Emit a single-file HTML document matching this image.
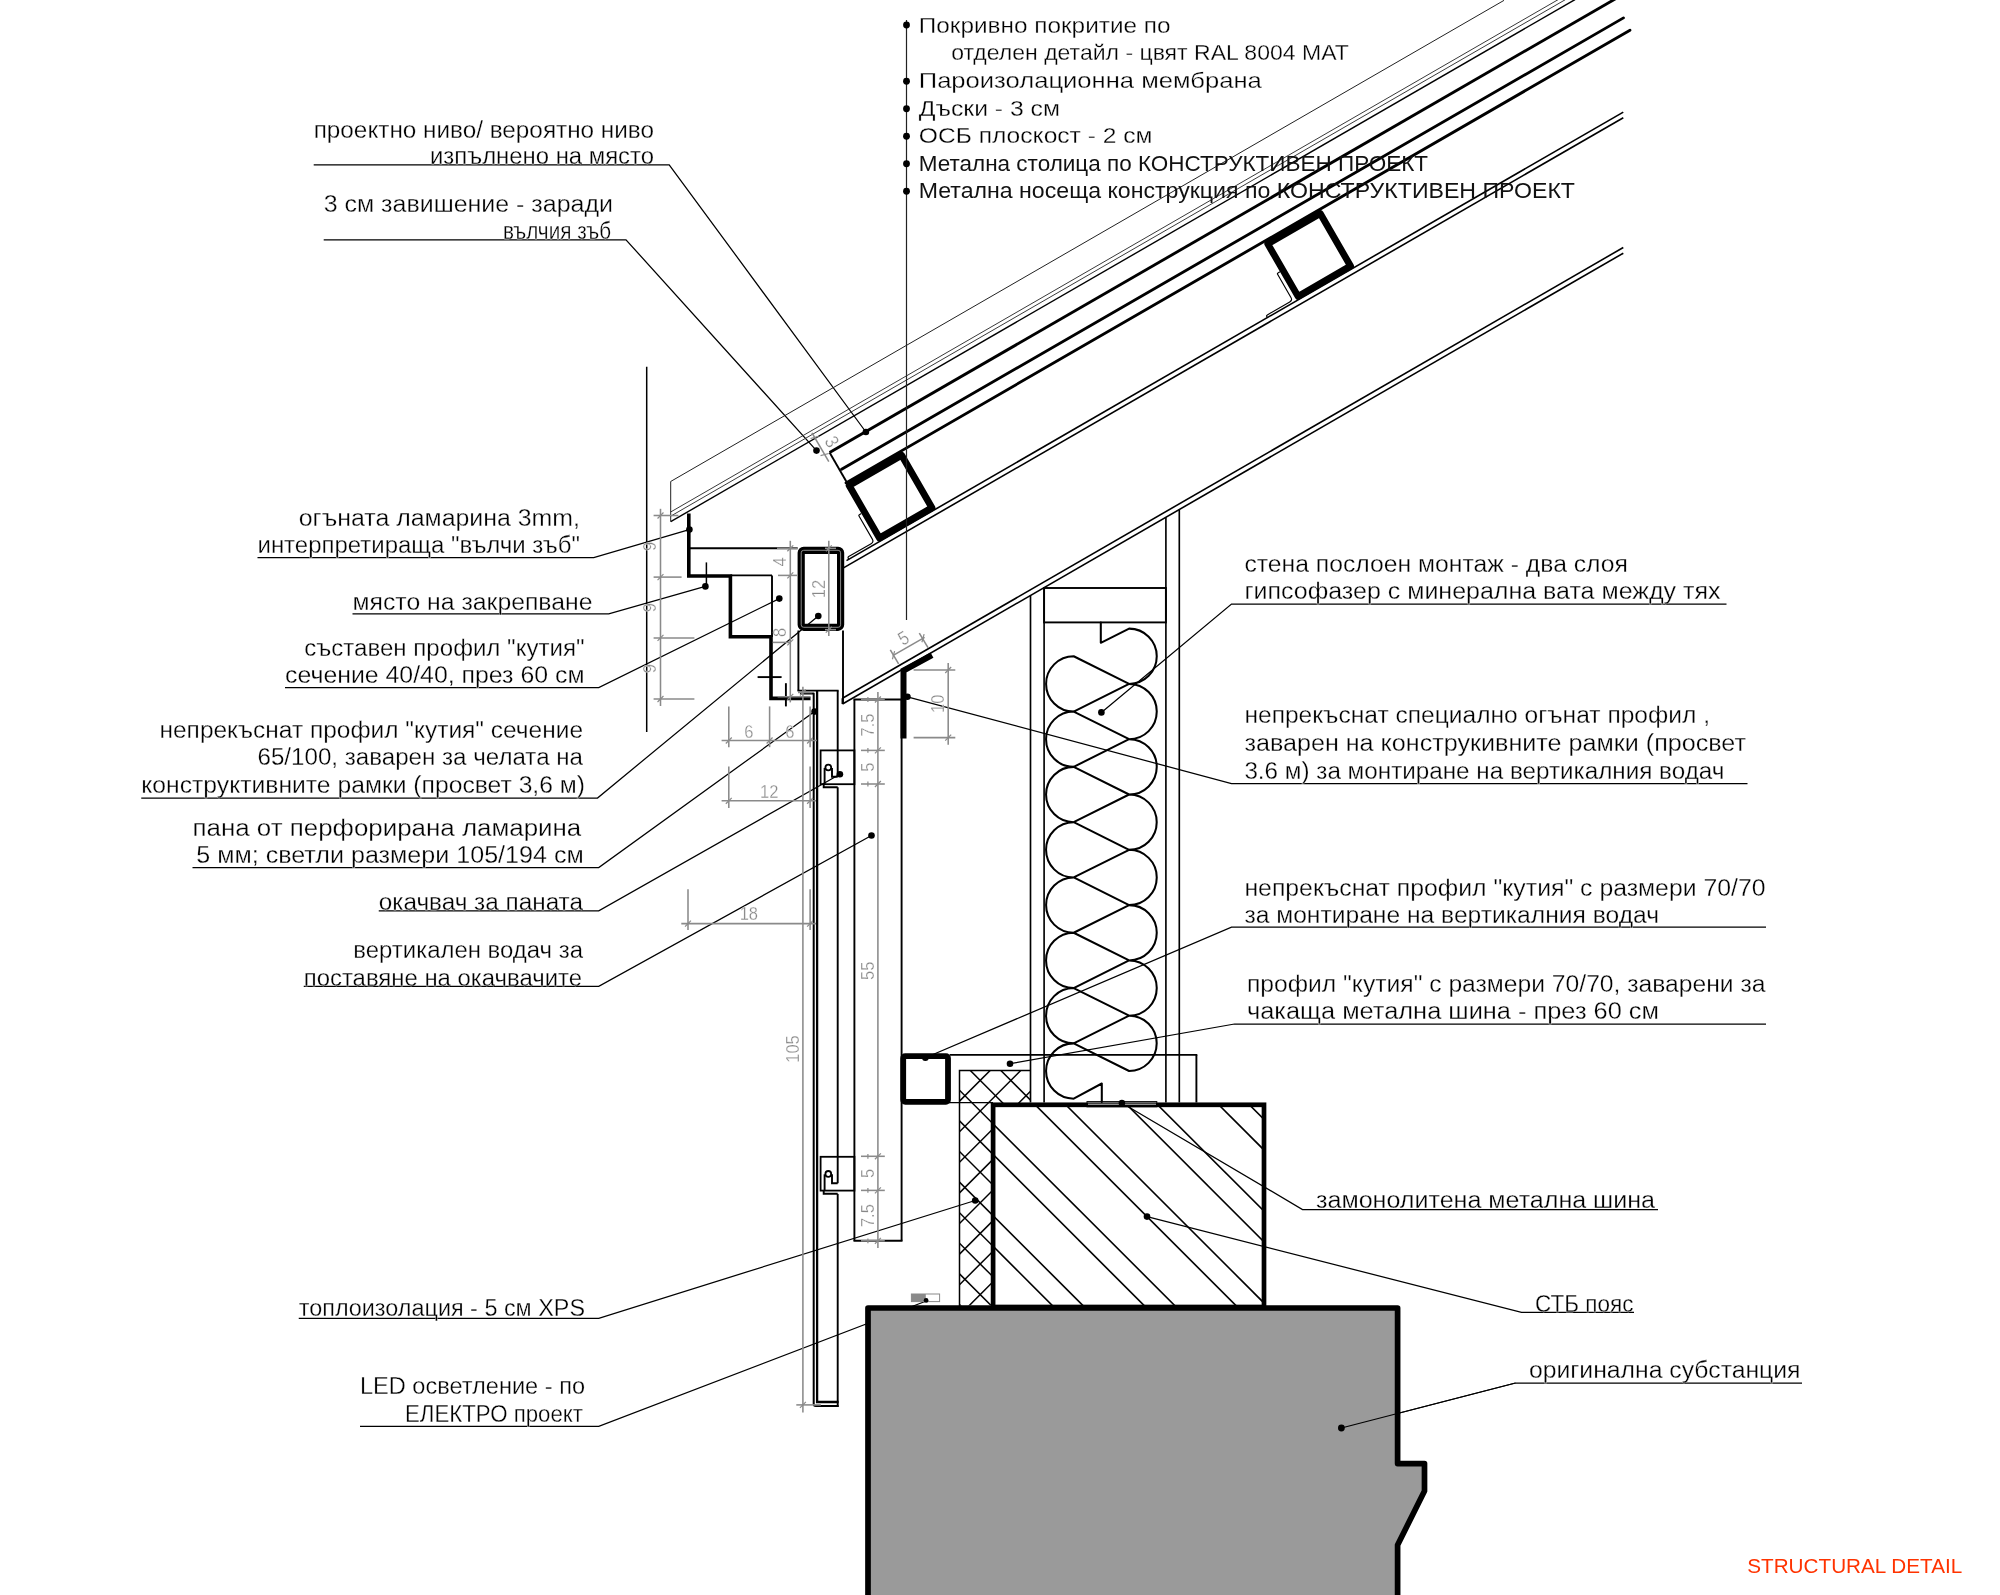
<!DOCTYPE html>
<html lang="bg"><head><meta charset="utf-8"><title>Structural detail</title>
<style>
html,body{margin:0;padding:0;background:#fff;}
body{width:2000px;height:1595px;overflow:hidden;font-family:"Liberation Sans",sans-serif;}
svg{display:block;}
text{font-family:"Liberation Sans",sans-serif;}
#labels,#dims{opacity:0.999;}
</style></head><body>
<svg width="2000" height="1595" viewBox="0 0 2000 1595">
<rect x="0" y="0" width="2000" height="1595" fill="#fff"/>
<g id="leaders">
<path d="M313.7 164.8 H669.2 L865.9 432" fill="none" stroke="#000" stroke-width="1.25" stroke-linejoin="miter" stroke-linecap="butt" />
<path d="M323.7 239.8 H626 L816.5 450.6" fill="none" stroke="#000" stroke-width="1.25" stroke-linejoin="miter" stroke-linecap="butt" />
<path d="M257.5 557.5 H593.75 L689.2 529.6" fill="none" stroke="#000" stroke-width="1.25" stroke-linejoin="miter" stroke-linecap="butt" />
<path d="M352.5 613.75 H608.75 L705.3 586.4" fill="none" stroke="#000" stroke-width="1.25" stroke-linejoin="miter" stroke-linecap="butt" />
<path d="M285 687.5 H598.75 L779.3 598.6" fill="none" stroke="#000" stroke-width="1.25" stroke-linejoin="miter" stroke-linecap="butt" />
<path d="M141.25 798 H597.5 L818.3 616" fill="none" stroke="#000" stroke-width="1.25" stroke-linejoin="miter" stroke-linecap="butt" />
<path d="M192.5 867.5 H598.75 L814.6 711.6" fill="none" stroke="#000" stroke-width="1.25" stroke-linejoin="miter" stroke-linecap="butt" />
<path d="M378.75 910.75 H598.75 L839.9 774.2" fill="none" stroke="#000" stroke-width="1.25" stroke-linejoin="miter" stroke-linecap="butt" />
<path d="M303.75 986.25 H598.75 L871.5 835.5" fill="none" stroke="#000" stroke-width="1.25" stroke-linejoin="miter" stroke-linecap="butt" />
<path d="M298.75 1318.25 H598.75 L975.2 1200.5" fill="none" stroke="#000" stroke-width="1.25" stroke-linejoin="miter" stroke-linecap="butt" />
<path d="M360 1426.25 H598.75 L926.3 1301" fill="none" stroke="#000" stroke-width="1.25" stroke-linejoin="miter" stroke-linecap="butt" />
<path d="M1726.5 604 H1231.5 L1101.4 712.4" fill="none" stroke="#000" stroke-width="1.25" stroke-linejoin="miter" stroke-linecap="butt" />
<path d="M1747.5 783.6 H1231.5 L907.4 696.8" fill="none" stroke="#000" stroke-width="1.25" stroke-linejoin="miter" stroke-linecap="butt" />
<path d="M1766 927.2 H1231.5 L925.4 1057.8" fill="none" stroke="#000" stroke-width="1.25" stroke-linejoin="miter" stroke-linecap="butt" />
<path d="M1766 1024 H1234.5 L1010 1063.7" fill="none" stroke="#000" stroke-width="1.25" stroke-linejoin="miter" stroke-linecap="butt" />
<path d="M1658 1209.5 H1302.5 L1121.9 1103" fill="none" stroke="#000" stroke-width="1.25" stroke-linejoin="miter" stroke-linecap="butt" />
<path d="M1634 1312.4 H1521.5 L1147 1216.6" fill="none" stroke="#000" stroke-width="1.25" stroke-linejoin="miter" stroke-linecap="butt" />
<path d="M1802 1383 H1515.5 L1341.4 1428" fill="none" stroke="#000" stroke-width="1.25" stroke-linejoin="miter" stroke-linecap="butt" />
</g>
<g id="substation">
<path d="M868 1600 V1308 H1397.6 V1463.6 H1424.5 V1491 L1397.6 1545 V1600" fill="#9a9a9a" stroke="#000" stroke-width="5.7" stroke-linejoin="round" stroke-linecap="butt" />
<circle cx="1341.4" cy="1428" r="3.4" fill="#000"/>
<line x1="1341.4" y1="1428" x2="1515.5" y2="1383" stroke="#000" stroke-width="1.25" stroke-linecap="butt" />
</g>
<g id="roof">
<line x1="670.7" y1="481.47" x2="1504" y2="0.37" stroke="#222" stroke-width="1" stroke-linecap="butt" />
<line x1="670.7" y1="511.97" x2="1558" y2="-0.31" stroke="#3a3a3a" stroke-width="1" stroke-linecap="butt" />
<line x1="670.7" y1="516.17" x2="1565.5" y2="-0.44" stroke="#3a3a3a" stroke-width="1" stroke-linecap="butt" />
<line x1="670.7" y1="521.67" x2="1575" y2="-0.43" stroke="#000" stroke-width="1.4" stroke-linecap="butt" />
<line x1="670.7" y1="481.47" x2="670.7" y2="521.67" stroke="#222" stroke-width="1" stroke-linecap="butt" />
<line x1="829.6" y1="452.53" x2="1616" y2="-1.5" stroke="#000" stroke-width="2.85" stroke-linecap="butt" />
<line x1="841.6" y1="469.3" x2="1623.5" y2="17.87" stroke="#000" stroke-width="2.85" stroke-linecap="round" />
<line x1="846" y1="482.86" x2="1630" y2="30.22" stroke="#000" stroke-width="2.85" stroke-linecap="round" />
<line x1="829.6" y1="452.53" x2="846.9" y2="482.49" stroke="#000" stroke-width="1.9" stroke-linecap="butt" />
<line x1="846.5" y1="560.57" x2="1623.3" y2="112.09" stroke="#000" stroke-width="1.6" stroke-linecap="butt" />
<line x1="843.5" y1="567.91" x2="1623.3" y2="117.69" stroke="#000" stroke-width="1.6" stroke-linecap="butt" />
<line x1="842.5" y1="698.28" x2="1623.3" y2="247.49" stroke="#000" stroke-width="1.6" stroke-linecap="butt" />
<line x1="842.5" y1="703.98" x2="1623.3" y2="253.19" stroke="#000" stroke-width="1.6" stroke-linecap="butt" />
<line x1="842.5" y1="698.28" x2="842.5" y2="703.98" stroke="#000" stroke-width="1.9" stroke-linecap="butt" />
<path d="M849.14 485.54 L901.63 455.24 L931.93 507.73 L879.44 538.03 Z" fill="#fff" stroke="#000" stroke-width="6.8" stroke-linejoin="round" stroke-linecap="butt" />
<path d="M861.35 513.49 L859.36 514.64 Q858.49 515.14 858.99 516 L872.34 539.12 Q873.99 541.98 871.13 543.63 L848.7 556.58 Q847.58 557.23 848.23 558.36 L848.93 559.57 " fill="none" stroke="#000" stroke-width="1.15" stroke-linejoin="round" stroke-linecap="butt" />
<path d="M1267.74 243.84 L1320.23 213.54 L1350.53 266.03 L1298.04 296.33 Z" fill="#fff" stroke="#000" stroke-width="6.8" stroke-linejoin="round" stroke-linecap="butt" />
<path d="M1279.95 271.79 L1277.96 272.94 Q1277.09 273.44 1277.59 274.3 L1290.94 297.42 Q1292.59 300.28 1289.73 301.93 L1267.3 314.88 Q1266.18 315.53 1266.83 316.66 L1267.53 317.87 " fill="none" stroke="#000" stroke-width="1.15" stroke-linejoin="round" stroke-linecap="butt" />
</g>
<g id="eave">
<line x1="688.8" y1="548.3" x2="797.6" y2="548.3" stroke="#000" stroke-width="1.9" stroke-linecap="butt" />
<line x1="730.4" y1="575.4" x2="772" y2="575.4" stroke="#000" stroke-width="1.9" stroke-linecap="butt" />
<line x1="772" y1="575.4" x2="772" y2="637" stroke="#000" stroke-width="1.9" stroke-linecap="butt" />
<line x1="706.4" y1="562.4" x2="706.4" y2="586" stroke="#000" stroke-width="1.5" stroke-linecap="butt" />
<line x1="757.6" y1="677.1" x2="781.6" y2="677.1" stroke="#000" stroke-width="1.9" stroke-linecap="butt" />
<line x1="785.9" y1="683.2" x2="785.9" y2="706.4" stroke="#000" stroke-width="1.9" stroke-linecap="butt" />
<path d="M688.8 513.6 V576 H730.4 V636.8 H771 V698.4 H810.5" fill="none" stroke="#000" stroke-width="3.6" stroke-linejoin="miter" stroke-linecap="butt" />
<rect x="801.2" y="550.3" width="39.4" height="77" rx="2.5" fill="none" stroke="#000" stroke-width="7.2"/>
<rect x="801.2" y="550.3" width="39.4" height="77" rx="2.5" fill="none" stroke="#9a9a9a" stroke-width="0.9"/>
<line x1="798.4" y1="630.5" x2="798.4" y2="690.6" stroke="#000" stroke-width="1.9" stroke-linecap="butt" />
<line x1="843" y1="630.5" x2="843" y2="703.9" stroke="#000" stroke-width="1.9" stroke-linecap="butt" />
<line x1="797.5" y1="690.6" x2="838.6" y2="690.6" stroke="#000" stroke-width="1.9" stroke-linecap="butt" />
</g>
<g id="panel">
<path d="M800 693.4 H813.7 V1404 Q813.7 1406 815.7 1406 H838.6" fill="none" stroke="#000" stroke-width="2" stroke-linejoin="round" stroke-linecap="butt" />
<path d="M817.1 690.6 V1402 H838.6" fill="none" stroke="#000" stroke-width="2.3" stroke-linejoin="miter" stroke-linecap="butt" />
<line x1="837.7" y1="690.6" x2="837.7" y2="776.8" stroke="#000" stroke-width="1.9" stroke-linecap="butt" />
<line x1="837.7" y1="787.3" x2="837.7" y2="1183.2" stroke="#000" stroke-width="1.9" stroke-linecap="butt" />
<line x1="837.7" y1="1193.9" x2="837.7" y2="1407" stroke="#000" stroke-width="1.9" stroke-linecap="butt" />
<rect x="820.6" y="750.4" width="33.8" height="33.8" fill="none" stroke="#000" stroke-width="1.8"/>
<path d="M823.7 784.2 V787.3 H837.7" fill="none" stroke="#000" stroke-width="1.9" stroke-linejoin="miter" stroke-linecap="butt" />
<circle cx="828.3" cy="767.5" r="2.9" fill="#fff" stroke="#000" stroke-width="1.8"/>
<path d="M824.6 767.9 V784.2" fill="none" stroke="#000" stroke-width="1.9" stroke-linejoin="miter" stroke-linecap="butt" />
<path d="M832 767.9 V776.8 H837.7" fill="none" stroke="#000" stroke-width="1.9" stroke-linejoin="miter" stroke-linecap="butt" />
<rect x="820.6" y="1156.8" width="33.8" height="33.8" fill="none" stroke="#000" stroke-width="1.8"/>
<path d="M823.7 1190.6 V1193.7 H837.7" fill="none" stroke="#000" stroke-width="1.9" stroke-linejoin="miter" stroke-linecap="butt" />
<circle cx="828.3" cy="1173.9" r="2.9" fill="#fff" stroke="#000" stroke-width="1.8"/>
<path d="M824.6 1174.3 V1190.6" fill="none" stroke="#000" stroke-width="1.9" stroke-linejoin="miter" stroke-linecap="butt" />
<path d="M832 1174.3 V1183.2 H837.7" fill="none" stroke="#000" stroke-width="1.9" stroke-linejoin="miter" stroke-linecap="butt" />
<line x1="854.4" y1="699.5" x2="854.4" y2="1240.8" stroke="#000" stroke-width="1.9" stroke-linecap="butt" />
<line x1="901.6" y1="699.5" x2="901.6" y2="1240.8" stroke="#000" stroke-width="1.9" stroke-linecap="butt" />
<line x1="853.5" y1="699.5" x2="902.5" y2="699.5" stroke="#000" stroke-width="1.9" stroke-linecap="butt" />
<line x1="853.5" y1="1240.8" x2="902.5" y2="1240.8" stroke="#000" stroke-width="1.9" stroke-linecap="butt" />
<path d="M903.5 738.5 V670.5 L932 655.1" fill="none" stroke="#000" stroke-width="6" stroke-linejoin="miter" stroke-linecap="butt" />
</g>
<g id="wall">
<line x1="1030.5" y1="595.44" x2="1030.5" y2="1102.5" stroke="#000" stroke-width="1.65" stroke-linecap="butt" />
<line x1="1044.1" y1="587.59" x2="1044.1" y2="1102.5" stroke="#000" stroke-width="1.65" stroke-linecap="butt" />
<line x1="1165.9" y1="517.27" x2="1165.9" y2="1102.5" stroke="#000" stroke-width="1.65" stroke-linecap="butt" />
<line x1="1179.3" y1="509.53" x2="1179.3" y2="1102.5" stroke="#000" stroke-width="1.65" stroke-linecap="butt" />
<rect x="1044.1" y="588" width="121.8" height="34.4" fill="none" stroke="#000" stroke-width="1.9"/>
<path d="M1100.8 622.4 V642.8 L1129.1 628.6 A27.65 27.65 0 0 1 1129.1 683.9 L1073.7 656.25 A27.65 27.65 0 0 0 1073.7 711.55 L1129.1 683.9 A27.65 27.65 0 0 1 1129.1 739.2 L1073.7 711.55 A27.65 27.65 0 0 0 1073.7 766.85 L1129.1 739.2 A27.65 27.65 0 0 1 1129.1 794.5 L1073.7 766.85 A27.65 27.65 0 0 0 1073.7 822.15 L1129.1 794.5 A27.65 27.65 0 0 1 1129.1 849.8 L1073.7 822.15 A27.65 27.65 0 0 0 1073.7 877.45 L1129.1 849.8 A27.65 27.65 0 0 1 1129.1 905.1 L1073.7 877.45 A27.65 27.65 0 0 0 1073.7 932.75 L1129.1 905.1 A27.65 27.65 0 0 1 1129.1 960.4 L1073.7 932.75 A27.65 27.65 0 0 0 1073.7 988.05 L1129.1 960.4 A27.65 27.65 0 0 1 1129.1 1015.7 L1073.7 988.05 A27.65 27.65 0 0 0 1073.7 1043.35 L1129.1 1015.7 A27.65 27.65 0 0 1 1129.1 1071 L1073.7 1043.35 A27.65 27.65 0 0 0 1073.7 1098.65 L1101.8 1083.5 V1102" fill="none" stroke="#000" stroke-width="2.05" stroke-linejoin="round" stroke-linecap="round" />
</g>
<g id="base">
<defs>
<clipPath id="cx"><path d="M959.5 1070.6 H1030.9 V1103 H992.8 V1305.6 H959.5 Z"/></clipPath>
<clipPath id="cb"><rect x="993" y="1104.6" width="271" height="202"/></clipPath>
</defs>
<g clip-path="url(#cx)">
<line x1="940" y1="917.8" x2="1060" y2="1037.8" stroke="#000" stroke-width="1.5" stroke-linecap="butt" />
<line x1="940" y1="948.4" x2="1060" y2="1068.4" stroke="#000" stroke-width="1.5" stroke-linecap="butt" />
<line x1="940" y1="979" x2="1060" y2="1099" stroke="#000" stroke-width="1.5" stroke-linecap="butt" />
<line x1="940" y1="1009.6" x2="1060" y2="1129.6" stroke="#000" stroke-width="1.5" stroke-linecap="butt" />
<line x1="940" y1="1040.2" x2="1060" y2="1160.2" stroke="#000" stroke-width="1.5" stroke-linecap="butt" />
<line x1="940" y1="1070.8" x2="1060" y2="1190.8" stroke="#000" stroke-width="1.5" stroke-linecap="butt" />
<line x1="940" y1="1101.4" x2="1060" y2="1221.4" stroke="#000" stroke-width="1.5" stroke-linecap="butt" />
<line x1="940" y1="1132" x2="1060" y2="1252" stroke="#000" stroke-width="1.5" stroke-linecap="butt" />
<line x1="940" y1="1162.6" x2="1060" y2="1282.6" stroke="#000" stroke-width="1.5" stroke-linecap="butt" />
<line x1="940" y1="1193.2" x2="1060" y2="1313.2" stroke="#000" stroke-width="1.5" stroke-linecap="butt" />
<line x1="940" y1="1223.8" x2="1060" y2="1343.8" stroke="#000" stroke-width="1.5" stroke-linecap="butt" />
<line x1="940" y1="1254.4" x2="1060" y2="1374.4" stroke="#000" stroke-width="1.5" stroke-linecap="butt" />
<line x1="940" y1="1285" x2="1060" y2="1405" stroke="#000" stroke-width="1.5" stroke-linecap="butt" />
<line x1="940" y1="1315.6" x2="1060" y2="1435.6" stroke="#000" stroke-width="1.5" stroke-linecap="butt" />
<line x1="940" y1="1346.2" x2="1060" y2="1466.2" stroke="#000" stroke-width="1.5" stroke-linecap="butt" />
<line x1="940" y1="1376.8" x2="1060" y2="1496.8" stroke="#000" stroke-width="1.5" stroke-linecap="butt" />
<line x1="940" y1="998.2" x2="1060" y2="878.2" stroke="#000" stroke-width="1.5" stroke-linecap="butt" />
<line x1="940" y1="1028.8" x2="1060" y2="908.8" stroke="#000" stroke-width="1.5" stroke-linecap="butt" />
<line x1="940" y1="1059.4" x2="1060" y2="939.4" stroke="#000" stroke-width="1.5" stroke-linecap="butt" />
<line x1="940" y1="1090" x2="1060" y2="970" stroke="#000" stroke-width="1.5" stroke-linecap="butt" />
<line x1="940" y1="1120.6" x2="1060" y2="1000.6" stroke="#000" stroke-width="1.5" stroke-linecap="butt" />
<line x1="940" y1="1151.2" x2="1060" y2="1031.2" stroke="#000" stroke-width="1.5" stroke-linecap="butt" />
<line x1="940" y1="1181.8" x2="1060" y2="1061.8" stroke="#000" stroke-width="1.5" stroke-linecap="butt" />
<line x1="940" y1="1212.4" x2="1060" y2="1092.4" stroke="#000" stroke-width="1.5" stroke-linecap="butt" />
<line x1="940" y1="1243" x2="1060" y2="1123" stroke="#000" stroke-width="1.5" stroke-linecap="butt" />
<line x1="940" y1="1273.6" x2="1060" y2="1153.6" stroke="#000" stroke-width="1.5" stroke-linecap="butt" />
<line x1="940" y1="1304.2" x2="1060" y2="1184.2" stroke="#000" stroke-width="1.5" stroke-linecap="butt" />
<line x1="940" y1="1334.8" x2="1060" y2="1214.8" stroke="#000" stroke-width="1.5" stroke-linecap="butt" />
<line x1="940" y1="1365.4" x2="1060" y2="1245.4" stroke="#000" stroke-width="1.5" stroke-linecap="butt" />
<line x1="940" y1="1396" x2="1060" y2="1276" stroke="#000" stroke-width="1.5" stroke-linecap="butt" />
<line x1="940" y1="1426.6" x2="1060" y2="1306.6" stroke="#000" stroke-width="1.5" stroke-linecap="butt" />
</g>
<path d="M959.5 1306 V1070.6 H1030.9" fill="none" stroke="#000" stroke-width="1.5" stroke-linejoin="miter" stroke-linecap="butt" />
<line x1="949.6" y1="1054.9" x2="1197.3" y2="1054.9" stroke="#000" stroke-width="1.9" stroke-linecap="butt" />
<line x1="1196.4" y1="1054.9" x2="1196.4" y2="1102.5" stroke="#000" stroke-width="1.9" stroke-linecap="butt" />
<line x1="949" y1="1102.6" x2="993" y2="1102.6" stroke="#000" stroke-width="1.4" stroke-linecap="butt" />
<g clip-path="url(#cb)">
<line x1="980" y1="1386.2" x2="1280" y2="1686.2" stroke="#000" stroke-width="1.6" stroke-linecap="butt" />
<line x1="980" y1="1325" x2="1280" y2="1625" stroke="#000" stroke-width="1.6" stroke-linecap="butt" />
<line x1="980" y1="1294.4" x2="1280" y2="1594.4" stroke="#000" stroke-width="1.6" stroke-linecap="butt" />
<line x1="980" y1="1233.2" x2="1280" y2="1533.2" stroke="#000" stroke-width="1.6" stroke-linecap="butt" />
<line x1="980" y1="1202.6" x2="1280" y2="1502.6" stroke="#000" stroke-width="1.6" stroke-linecap="butt" />
<line x1="980" y1="1141.4" x2="1280" y2="1441.4" stroke="#000" stroke-width="1.6" stroke-linecap="butt" />
<line x1="980" y1="1110.8" x2="1280" y2="1410.8" stroke="#000" stroke-width="1.6" stroke-linecap="butt" />
<line x1="980" y1="1049.6" x2="1280" y2="1349.6" stroke="#000" stroke-width="1.6" stroke-linecap="butt" />
<line x1="980" y1="1019" x2="1280" y2="1319" stroke="#000" stroke-width="1.6" stroke-linecap="butt" />
<line x1="980" y1="957.8" x2="1280" y2="1257.8" stroke="#000" stroke-width="1.6" stroke-linecap="butt" />
<line x1="980" y1="927.2" x2="1280" y2="1227.2" stroke="#000" stroke-width="1.6" stroke-linecap="butt" />
<line x1="980" y1="866" x2="1280" y2="1166" stroke="#000" stroke-width="1.6" stroke-linecap="butt" />
<line x1="980" y1="835.4" x2="1280" y2="1135.4" stroke="#000" stroke-width="1.6" stroke-linecap="butt" />
</g>
<rect x="993.1" y="1104.8" width="270.9" height="202.2" fill="none" stroke="#000" stroke-width="4.7"/>
<rect x="1087" y="1101.6" width="69.8" height="5.2" fill="none" stroke="#000" stroke-width="1"/>
<line x1="1088" y1="1104.2" x2="1156" y2="1104.2" stroke="#fff" stroke-width="0.8" stroke-linecap="butt" />
<rect x="903.2" y="1056.2" width="44.8" height="45.6" rx="2" fill="#fff" stroke="#000" stroke-width="5.8"/>
<rect x="911.4" y="1294" width="28.2" height="7.6" fill="#fff" stroke="#8a8a8a" stroke-width="1"/>
<rect x="911.4" y="1294" width="14.4" height="7.6" fill="#8a8a8a"/>
<circle cx="926.1" cy="1300.4" r="2.4" fill="#000"/>
</g>
<line x1="646.7" y1="366.8" x2="646.7" y2="732" stroke="#000" stroke-width="1.5" stroke-linecap="butt" />
<line x1="906.5" y1="20" x2="906.5" y2="620" stroke="#222" stroke-width="1.2" stroke-linecap="butt" />
<g id="dims" font-family="'Liberation Sans', sans-serif">
<line x1="660.5" y1="508.8" x2="660.5" y2="706" stroke="#8a8a8a" stroke-width="1.55" stroke-linecap="butt" />
<line x1="653.6" y1="515.5" x2="678.4" y2="515.5" stroke="#8a8a8a" stroke-width="1.55" stroke-linecap="butt" />
<line x1="657.53" y1="518.47" x2="663.47" y2="512.53" stroke="#8a8a8a" stroke-width="1.2" stroke-linecap="butt" />
<line x1="653.6" y1="577.1" x2="681.6" y2="577.1" stroke="#8a8a8a" stroke-width="1.55" stroke-linecap="butt" />
<line x1="657.53" y1="580.07" x2="663.47" y2="574.13" stroke="#8a8a8a" stroke-width="1.2" stroke-linecap="butt" />
<line x1="653.6" y1="637.9" x2="694.4" y2="637.9" stroke="#8a8a8a" stroke-width="1.55" stroke-linecap="butt" />
<line x1="657.53" y1="640.87" x2="663.47" y2="634.93" stroke="#8a8a8a" stroke-width="1.2" stroke-linecap="butt" />
<line x1="653.6" y1="699" x2="694.4" y2="699" stroke="#8a8a8a" stroke-width="1.55" stroke-linecap="butt" />
<line x1="657.53" y1="701.97" x2="663.47" y2="696.03" stroke="#8a8a8a" stroke-width="1.2" stroke-linecap="butt" />
<text transform="translate(656.4 546.5) rotate(-90)" text-anchor="middle" font-size="19.2" fill="#878787" stroke="#fff" stroke-width="0.3" textLength="9.18" lengthAdjust="spacingAndGlyphs">9</text>
<text transform="translate(656.4 607.6) rotate(-90)" text-anchor="middle" font-size="19.2" fill="#878787" stroke="#fff" stroke-width="0.3" textLength="9.18" lengthAdjust="spacingAndGlyphs">9</text>
<text transform="translate(656.4 668.6) rotate(-90)" text-anchor="middle" font-size="19.2" fill="#878787" stroke="#fff" stroke-width="0.3" textLength="9.18" lengthAdjust="spacingAndGlyphs">9</text>
<line x1="790.3" y1="540.8" x2="790.3" y2="702.4" stroke="#8a8a8a" stroke-width="1.55" stroke-linecap="butt" />
<line x1="777" y1="548.3" x2="798" y2="548.3" stroke="#8a8a8a" stroke-width="1.55" stroke-linecap="butt" />
<line x1="778" y1="575.4" x2="797" y2="575.4" stroke="#8a8a8a" stroke-width="1.55" stroke-linecap="butt" />
<line x1="772.8" y1="642.4" x2="790.4" y2="642.4" stroke="#8a8a8a" stroke-width="1.55" stroke-linecap="butt" />
<line x1="777.6" y1="696.8" x2="810.1" y2="696.8" stroke="#8a8a8a" stroke-width="1.55" stroke-linecap="butt" />
<line x1="787.33" y1="551.27" x2="793.27" y2="545.33" stroke="#8a8a8a" stroke-width="1.2" stroke-linecap="butt" />
<line x1="787.33" y1="578.37" x2="793.27" y2="572.43" stroke="#8a8a8a" stroke-width="1.2" stroke-linecap="butt" />
<line x1="787.33" y1="645.37" x2="793.27" y2="639.43" stroke="#8a8a8a" stroke-width="1.2" stroke-linecap="butt" />
<line x1="787.33" y1="699.77" x2="793.27" y2="693.83" stroke="#8a8a8a" stroke-width="1.2" stroke-linecap="butt" />
<text transform="translate(786.4 561.8) rotate(-90)" text-anchor="middle" font-size="19.2" fill="#878787" stroke="#fff" stroke-width="0.3" textLength="9.18" lengthAdjust="spacingAndGlyphs">4</text>
<text transform="translate(786.4 632.3) rotate(-90)" text-anchor="middle" font-size="19.2" fill="#878787" stroke="#fff" stroke-width="0.3" textLength="9.18" lengthAdjust="spacingAndGlyphs">8</text>
<line x1="828.8" y1="540.8" x2="828.8" y2="636" stroke="#8a8a8a" stroke-width="1.55" stroke-linecap="butt" />
<line x1="825.83" y1="551.27" x2="831.77" y2="545.33" stroke="#8a8a8a" stroke-width="1.2" stroke-linecap="butt" />
<line x1="825.83" y1="632.67" x2="831.77" y2="626.73" stroke="#8a8a8a" stroke-width="1.2" stroke-linecap="butt" />
<line x1="825" y1="548.3" x2="836" y2="548.3" stroke="#8a8a8a" stroke-width="1.55" stroke-linecap="butt" />
<line x1="825" y1="629.7" x2="836" y2="629.7" stroke="#8a8a8a" stroke-width="1.55" stroke-linecap="butt" />
<text transform="translate(824.9 589) rotate(-90)" text-anchor="middle" font-size="19.2" fill="#878787" stroke="#fff" stroke-width="0.3" textLength="18.36" lengthAdjust="spacingAndGlyphs">12</text>
<line x1="802.9" y1="686.8" x2="802.9" y2="1412.6" stroke="#8a8a8a" stroke-width="1.55" stroke-linecap="butt" />
<line x1="799.93" y1="695.47" x2="805.87" y2="689.53" stroke="#8a8a8a" stroke-width="1.2" stroke-linecap="butt" />
<line x1="799.93" y1="1407.87" x2="805.87" y2="1401.93" stroke="#8a8a8a" stroke-width="1.2" stroke-linecap="butt" />
<line x1="796.3" y1="1404.9" x2="820.8" y2="1404.9" stroke="#8a8a8a" stroke-width="1.55" stroke-linecap="butt" />
<line x1="798" y1="692.5" x2="812" y2="692.5" stroke="#8a8a8a" stroke-width="1.55" stroke-linecap="butt" />
<text transform="translate(799 1049) rotate(-90)" text-anchor="middle" font-size="19.2" fill="#878787" stroke="#fff" stroke-width="0.3" textLength="27.54" lengthAdjust="spacingAndGlyphs">105</text>
<line x1="810.1" y1="706.4" x2="810.1" y2="747.2" stroke="#8a8a8a" stroke-width="1.55" stroke-linecap="butt" />
<line x1="810.1" y1="766.4" x2="810.1" y2="808" stroke="#8a8a8a" stroke-width="1.55" stroke-linecap="butt" />
<line x1="721.6" y1="740.5" x2="816.8" y2="740.5" stroke="#8a8a8a" stroke-width="1.55" stroke-linecap="butt" />
<line x1="728.8" y1="706.4" x2="728.8" y2="747.2" stroke="#8a8a8a" stroke-width="1.55" stroke-linecap="butt" />
<line x1="769.6" y1="706.4" x2="769.6" y2="747.2" stroke="#8a8a8a" stroke-width="1.55" stroke-linecap="butt" />
<line x1="725.83" y1="743.47" x2="731.77" y2="737.53" stroke="#8a8a8a" stroke-width="1.2" stroke-linecap="butt" />
<line x1="766.63" y1="743.47" x2="772.57" y2="737.53" stroke="#8a8a8a" stroke-width="1.2" stroke-linecap="butt" />
<line x1="807.13" y1="743.47" x2="813.07" y2="737.53" stroke="#8a8a8a" stroke-width="1.2" stroke-linecap="butt" />
<text transform="translate(748.8 737.5) rotate(0)" text-anchor="middle" font-size="19.2" fill="#878787" stroke="#fff" stroke-width="0.3" textLength="9.18" lengthAdjust="spacingAndGlyphs">6</text>
<text transform="translate(789.9 737.5) rotate(0)" text-anchor="middle" font-size="19.2" fill="#878787" stroke="#fff" stroke-width="0.3" textLength="9.18" lengthAdjust="spacingAndGlyphs">6</text>
<line x1="721.6" y1="800.8" x2="816" y2="800.8" stroke="#8a8a8a" stroke-width="1.55" stroke-linecap="butt" />
<line x1="728.8" y1="766.4" x2="728.8" y2="808" stroke="#8a8a8a" stroke-width="1.55" stroke-linecap="butt" />
<line x1="725.83" y1="803.77" x2="731.77" y2="797.83" stroke="#8a8a8a" stroke-width="1.2" stroke-linecap="butt" />
<line x1="807.13" y1="803.77" x2="813.07" y2="797.83" stroke="#8a8a8a" stroke-width="1.2" stroke-linecap="butt" />
<text transform="translate(769.2 797.6) rotate(0)" text-anchor="middle" font-size="19.2" fill="#878787" stroke="#fff" stroke-width="0.3" textLength="18.36" lengthAdjust="spacingAndGlyphs">12</text>
<line x1="681.3" y1="923.6" x2="816" y2="923.6" stroke="#8a8a8a" stroke-width="1.55" stroke-linecap="butt" />
<line x1="688" y1="889.2" x2="688" y2="930" stroke="#8a8a8a" stroke-width="1.55" stroke-linecap="butt" />
<line x1="810.1" y1="889.2" x2="810.1" y2="930" stroke="#8a8a8a" stroke-width="1.55" stroke-linecap="butt" />
<line x1="685.03" y1="926.57" x2="690.97" y2="920.63" stroke="#8a8a8a" stroke-width="1.2" stroke-linecap="butt" />
<line x1="807.13" y1="926.57" x2="813.07" y2="920.63" stroke="#8a8a8a" stroke-width="1.2" stroke-linecap="butt" />
<text transform="translate(748.8 919.6) rotate(0)" text-anchor="middle" font-size="19.2" fill="#878787" stroke="#fff" stroke-width="0.3" textLength="18.36" lengthAdjust="spacingAndGlyphs">18</text>
<line x1="877.9" y1="692" x2="877.9" y2="1248" stroke="#8a8a8a" stroke-width="1.55" stroke-linecap="butt" />
<line x1="874.93" y1="702.47" x2="880.87" y2="696.53" stroke="#8a8a8a" stroke-width="1.2" stroke-linecap="butt" />
<line x1="861" y1="699.5" x2="884.8" y2="699.5" stroke="#8a8a8a" stroke-width="1.55" stroke-linecap="butt" />
<line x1="867.9" y1="697.1" x2="867.9" y2="701.9" stroke="#8a8a8a" stroke-width="1.2" stroke-linecap="butt" />
<line x1="874.93" y1="753.37" x2="880.87" y2="747.43" stroke="#8a8a8a" stroke-width="1.2" stroke-linecap="butt" />
<line x1="861" y1="750.4" x2="884.8" y2="750.4" stroke="#8a8a8a" stroke-width="1.55" stroke-linecap="butt" />
<line x1="867.9" y1="748" x2="867.9" y2="752.8" stroke="#8a8a8a" stroke-width="1.2" stroke-linecap="butt" />
<line x1="874.93" y1="786.97" x2="880.87" y2="781.03" stroke="#8a8a8a" stroke-width="1.2" stroke-linecap="butt" />
<line x1="861" y1="784" x2="884.8" y2="784" stroke="#8a8a8a" stroke-width="1.55" stroke-linecap="butt" />
<line x1="867.9" y1="781.6" x2="867.9" y2="786.4" stroke="#8a8a8a" stroke-width="1.2" stroke-linecap="butt" />
<line x1="874.93" y1="1159.27" x2="880.87" y2="1153.33" stroke="#8a8a8a" stroke-width="1.2" stroke-linecap="butt" />
<line x1="861" y1="1156.3" x2="884.8" y2="1156.3" stroke="#8a8a8a" stroke-width="1.55" stroke-linecap="butt" />
<line x1="867.9" y1="1153.9" x2="867.9" y2="1158.7" stroke="#8a8a8a" stroke-width="1.2" stroke-linecap="butt" />
<line x1="874.93" y1="1193.37" x2="880.87" y2="1187.43" stroke="#8a8a8a" stroke-width="1.2" stroke-linecap="butt" />
<line x1="861" y1="1190.4" x2="884.8" y2="1190.4" stroke="#8a8a8a" stroke-width="1.55" stroke-linecap="butt" />
<line x1="867.9" y1="1188" x2="867.9" y2="1192.8" stroke="#8a8a8a" stroke-width="1.2" stroke-linecap="butt" />
<line x1="874.93" y1="1243.77" x2="880.87" y2="1237.83" stroke="#8a8a8a" stroke-width="1.2" stroke-linecap="butt" />
<line x1="861" y1="1240.8" x2="884.8" y2="1240.8" stroke="#8a8a8a" stroke-width="1.55" stroke-linecap="butt" />
<line x1="867.9" y1="1238.4" x2="867.9" y2="1243.2" stroke="#8a8a8a" stroke-width="1.2" stroke-linecap="butt" />
<text transform="translate(874 725) rotate(-90)" text-anchor="middle" font-size="19.2" fill="#878787" stroke="#fff" stroke-width="0.3" textLength="22.95" lengthAdjust="spacingAndGlyphs">7.5</text>
<text transform="translate(874 767.2) rotate(-90)" text-anchor="middle" font-size="19.2" fill="#878787" stroke="#fff" stroke-width="0.3" textLength="9.18" lengthAdjust="spacingAndGlyphs">5</text>
<text transform="translate(873.6 970.8) rotate(-90)" text-anchor="middle" font-size="19.2" fill="#878787" stroke="#fff" stroke-width="0.3" textLength="18.36" lengthAdjust="spacingAndGlyphs">55</text>
<text transform="translate(874 1173.4) rotate(-90)" text-anchor="middle" font-size="19.2" fill="#878787" stroke="#fff" stroke-width="0.3" textLength="9.18" lengthAdjust="spacingAndGlyphs">5</text>
<text transform="translate(874 1215.6) rotate(-90)" text-anchor="middle" font-size="19.2" fill="#878787" stroke="#fff" stroke-width="0.3" textLength="22.95" lengthAdjust="spacingAndGlyphs">7.5</text>
<line x1="892.8" y1="655.6" x2="924.6" y2="637.3" stroke="#8a8a8a" stroke-width="1.55" stroke-linecap="butt" />
<line x1="890.3" y1="649.9" x2="898.6" y2="663.9" stroke="#8a8a8a" stroke-width="1.55" stroke-linecap="butt" />
<line x1="919.3" y1="633.2" x2="928" y2="647.7" stroke="#8a8a8a" stroke-width="1.55" stroke-linecap="butt" />
<line x1="892.41" y1="659.26" x2="894.59" y2="651.14" stroke="#8a8a8a" stroke-width="1.2" stroke-linecap="butt" />
<line x1="921.91" y1="642.26" x2="924.09" y2="634.14" stroke="#8a8a8a" stroke-width="1.2" stroke-linecap="butt" />
<text transform="translate(906.8 643.8) rotate(-30)" text-anchor="middle" font-size="19.2" fill="#878787" stroke="#fff" stroke-width="0.3" textLength="9.18" lengthAdjust="spacingAndGlyphs">5</text>
<line x1="948.2" y1="663" x2="948.2" y2="744.7" stroke="#8a8a8a" stroke-width="1.55" stroke-linecap="butt" />
<line x1="913.6" y1="670" x2="955.3" y2="670" stroke="#8a8a8a" stroke-width="1.55" stroke-linecap="butt" />
<line x1="913.6" y1="737.6" x2="955.3" y2="737.6" stroke="#8a8a8a" stroke-width="1.55" stroke-linecap="butt" />
<line x1="945.23" y1="672.97" x2="951.17" y2="667.03" stroke="#8a8a8a" stroke-width="1.2" stroke-linecap="butt" />
<line x1="945.23" y1="740.57" x2="951.17" y2="734.63" stroke="#8a8a8a" stroke-width="1.2" stroke-linecap="butt" />
<text transform="translate(944.3 703.8) rotate(-90)" text-anchor="middle" font-size="19.2" fill="#878787" stroke="#fff" stroke-width="0.3" textLength="18.36" lengthAdjust="spacingAndGlyphs">10</text>
<line x1="812" y1="432.8" x2="828.8" y2="461.6" stroke="#8a8a8a" stroke-width="1.55" stroke-linecap="butt" />
<line x1="810.54" y1="438.49" x2="818.66" y2="436.31" stroke="#8a8a8a" stroke-width="1.2" stroke-linecap="butt" />
<line x1="820.54" y1="455.69" x2="828.66" y2="453.51" stroke="#8a8a8a" stroke-width="1.2" stroke-linecap="butt" />
<text transform="translate(826.2 445) rotate(60)" text-anchor="middle" font-size="19.2" fill="#878787" stroke="#fff" stroke-width="0.3" textLength="9.18" lengthAdjust="spacingAndGlyphs">3</text>
</g>
<g id="dots">
<circle cx="865.9" cy="432" r="3.3" fill="#000"/>
<circle cx="816.5" cy="450.6" r="3.3" fill="#000"/>
<circle cx="689.4" cy="529.6" r="3.3" fill="#000"/>
<circle cx="705.4" cy="586.4" r="3.3" fill="#000"/>
<circle cx="779.3" cy="598.6" r="3.3" fill="#000"/>
<circle cx="818.3" cy="616" r="3.3" fill="#000"/>
<circle cx="814.6" cy="711.6" r="3.3" fill="#000"/>
<circle cx="839.9" cy="774.2" r="3.3" fill="#000"/>
<circle cx="871.5" cy="835.5" r="3.3" fill="#000"/>
<circle cx="975.2" cy="1200.5" r="3.3" fill="#000"/>
<circle cx="1101.4" cy="712.4" r="3.3" fill="#000"/>
<circle cx="907.4" cy="696.8" r="3.3" fill="#000"/>
<circle cx="925.4" cy="1057.8" r="3.3" fill="#000"/>
<circle cx="1010" cy="1063.7" r="3.3" fill="#000"/>
<circle cx="1121.9" cy="1103" r="3.3" fill="#000"/>
<circle cx="1147" cy="1216.6" r="3.3" fill="#000"/>
<circle cx="906.5" cy="25" r="3.4" fill="#000"/>
<circle cx="906.5" cy="81.25" r="3.4" fill="#000"/>
<circle cx="906.5" cy="108.75" r="3.4" fill="#000"/>
<circle cx="906.5" cy="136.25" r="3.4" fill="#000"/>
<circle cx="906.5" cy="163.75" r="3.4" fill="#000"/>
<circle cx="906.5" cy="191.25" r="3.4" fill="#000"/>
</g>
<g id="labels" font-family="'Liberation Sans', sans-serif">
<text x="918.75" y="32.5" font-size="21.8" fill="#000" textLength="251.75" lengthAdjust="spacingAndGlyphs" stroke="#fff" stroke-width="0.28">Покривно покритие по</text>
<text x="951.25" y="60" font-size="21.8" fill="#000" textLength="397.5" lengthAdjust="spacingAndGlyphs" stroke="#fff" stroke-width="0.28">отделен детайл - цвят RAL 8004 МАТ</text>
<text x="918.75" y="88" font-size="21.8" fill="#000" textLength="343" lengthAdjust="spacingAndGlyphs" stroke="#fff" stroke-width="0.28">Пароизолационна мембрана</text>
<text x="918.75" y="115.5" font-size="21.8" fill="#000" textLength="141.25" lengthAdjust="spacingAndGlyphs" stroke="#fff" stroke-width="0.28">Дъски - 3 см</text>
<text x="918.75" y="143" font-size="21.8" fill="#000" textLength="233.75" lengthAdjust="spacingAndGlyphs" stroke="#fff" stroke-width="0.28">ОСБ плоскост - 2 см</text>
<text x="918.75" y="170.5" font-size="21.8" fill="#111" textLength="509.25" lengthAdjust="spacingAndGlyphs" >Метална столица по КОНСТРУКТИВЕН ПРОЕКТ</text>
<text x="918.75" y="197.5" font-size="21.8" fill="#111" textLength="656.25" lengthAdjust="spacingAndGlyphs" >Метална носеща конструкция по КОНСТРУКТИВЕН ПРОЕКТ</text>
<text x="313.7" y="137.7" font-size="23" fill="#000" textLength="340.3" lengthAdjust="spacingAndGlyphs" stroke="#fff" stroke-width="0.28">проектно ниво/ вероятно ниво</text>
<text x="430" y="164.3" font-size="23" fill="#000" textLength="224" lengthAdjust="spacingAndGlyphs" stroke="#fff" stroke-width="0.28">изпълнено на място</text>
<text x="323.7" y="212.3" font-size="23" fill="#000" textLength="289.3" lengthAdjust="spacingAndGlyphs" stroke="#fff" stroke-width="0.28">3 см завишение - заради</text>
<text x="503" y="239" font-size="23" fill="#000" textLength="108" lengthAdjust="spacingAndGlyphs" stroke="#fff" stroke-width="0.28">вълчия зъб</text>
<text x="298.75" y="525.75" font-size="23" fill="#000" textLength="281.25" lengthAdjust="spacingAndGlyphs" stroke="#fff" stroke-width="0.28">огъната ламарина 3mm,</text>
<text x="257.5" y="552.5" font-size="23" fill="#000" textLength="322.5" lengthAdjust="spacingAndGlyphs" stroke="#fff" stroke-width="0.28">интерпретираща &quot;вълчи зъб&quot;</text>
<text x="352.5" y="609.5" font-size="23" fill="#000" textLength="240" lengthAdjust="spacingAndGlyphs" stroke="#fff" stroke-width="0.28">място на закрепване</text>
<text x="304.25" y="655.5" font-size="23" fill="#000" textLength="280.25" lengthAdjust="spacingAndGlyphs" stroke="#fff" stroke-width="0.28">съставен профил &quot;кутия&quot;</text>
<text x="285" y="683" font-size="23" fill="#000" textLength="299.5" lengthAdjust="spacingAndGlyphs" stroke="#fff" stroke-width="0.28">сечение 40/40, през 60 см</text>
<text x="159.5" y="737.5" font-size="23" fill="#000" textLength="423.5" lengthAdjust="spacingAndGlyphs" stroke="#fff" stroke-width="0.28">непрекъснат профил &quot;кутия&quot; сечение</text>
<text x="257.5" y="765" font-size="23" fill="#000" textLength="325.5" lengthAdjust="spacingAndGlyphs" stroke="#fff" stroke-width="0.28">65/100, заварен за челата на</text>
<text x="141.25" y="792.5" font-size="23" fill="#000" textLength="443.75" lengthAdjust="spacingAndGlyphs" stroke="#fff" stroke-width="0.28">конструктивните рамки (просвет 3,6 м)</text>
<text x="192.5" y="835.75" font-size="23" fill="#000" textLength="388.75" lengthAdjust="spacingAndGlyphs" stroke="#fff" stroke-width="0.28">пана от перфорирана ламарина</text>
<text x="196.25" y="862.5" font-size="23" fill="#000" textLength="387.5" lengthAdjust="spacingAndGlyphs" stroke="#fff" stroke-width="0.28">5 мм; светли размери 105/194 см</text>
<text x="378.75" y="910" font-size="23" fill="#000" textLength="204.25" lengthAdjust="spacingAndGlyphs" stroke="#fff" stroke-width="0.28">окачвач за паната</text>
<text x="353.25" y="958.25" font-size="23" fill="#000" textLength="229.75" lengthAdjust="spacingAndGlyphs" stroke="#fff" stroke-width="0.28">вертикален водач за</text>
<text x="303.75" y="985.5" font-size="23" fill="#000" textLength="278.25" lengthAdjust="spacingAndGlyphs" stroke="#fff" stroke-width="0.28">поставяне на окачвачите</text>
<text x="298.75" y="1316.25" font-size="23" fill="#000" textLength="286.25" lengthAdjust="spacingAndGlyphs" stroke="#fff" stroke-width="0.28">топлоизолация - 5 см XPS</text>
<text x="360" y="1394.25" font-size="23" fill="#000" textLength="225" lengthAdjust="spacingAndGlyphs" stroke="#fff" stroke-width="0.28">LED осветление - по</text>
<text x="405" y="1421.75" font-size="23" fill="#000" textLength="178" lengthAdjust="spacingAndGlyphs" stroke="#fff" stroke-width="0.28">ЕЛЕКТРО проект</text>
<text x="1244.4" y="572.4" font-size="23" fill="#000" textLength="383.6" lengthAdjust="spacingAndGlyphs" stroke="#fff" stroke-width="0.28">стена послоен монтаж - два слоя</text>
<text x="1244.4" y="599" font-size="23" fill="#000" textLength="476.1" lengthAdjust="spacingAndGlyphs" stroke="#fff" stroke-width="0.28">гипсофазер с минерална вата между тях</text>
<text x="1244.4" y="723" font-size="23" fill="#000" textLength="465.6" lengthAdjust="spacingAndGlyphs" stroke="#fff" stroke-width="0.28">непрекъснат специално огънат профил ,</text>
<text x="1244.4" y="751" font-size="23" fill="#000" textLength="501.6" lengthAdjust="spacingAndGlyphs" stroke="#fff" stroke-width="0.28">заварен на конструкивните рамки (просвет</text>
<text x="1244.4" y="778.5" font-size="23" fill="#000" textLength="480" lengthAdjust="spacingAndGlyphs" stroke="#fff" stroke-width="0.28">3.6 м) за монтиране на вертикалния водач</text>
<text x="1244.4" y="896" font-size="23" fill="#000" textLength="521.1" lengthAdjust="spacingAndGlyphs" stroke="#fff" stroke-width="0.28">непрекъснат профил &quot;кутия&quot; с размери 70/70</text>
<text x="1244.4" y="923" font-size="23" fill="#000" textLength="414.6" lengthAdjust="spacingAndGlyphs" stroke="#fff" stroke-width="0.28">за монтиране на вертикалния водач</text>
<text x="1247" y="992" font-size="23" fill="#000" textLength="518.5" lengthAdjust="spacingAndGlyphs" stroke="#fff" stroke-width="0.28">профил &quot;кутия&quot; с размери 70/70, заварени за</text>
<text x="1247" y="1019" font-size="23" fill="#000" textLength="412" lengthAdjust="spacingAndGlyphs" stroke="#fff" stroke-width="0.28">чакаща метална шина - през 60 см</text>
<text x="1316" y="1208" font-size="23" fill="#000" textLength="339" lengthAdjust="spacingAndGlyphs" stroke="#fff" stroke-width="0.28">замонолитена метална шина</text>
<text x="1535" y="1311.5" font-size="23" fill="#000" textLength="98.4" lengthAdjust="spacingAndGlyphs" stroke="#fff" stroke-width="0.28">СТБ пояс</text>
<text x="1529" y="1377.5" font-size="23" fill="#000" textLength="271.5" lengthAdjust="spacingAndGlyphs" stroke="#fff" stroke-width="0.28">оригинална субстанция</text>
<text x="1747.25" y="1572.8" font-size="20" fill="#ff3300" textLength="214.95" lengthAdjust="spacingAndGlyphs" >STRUCTURAL DETAIL</text>
</g>
</svg>
</body></html>
